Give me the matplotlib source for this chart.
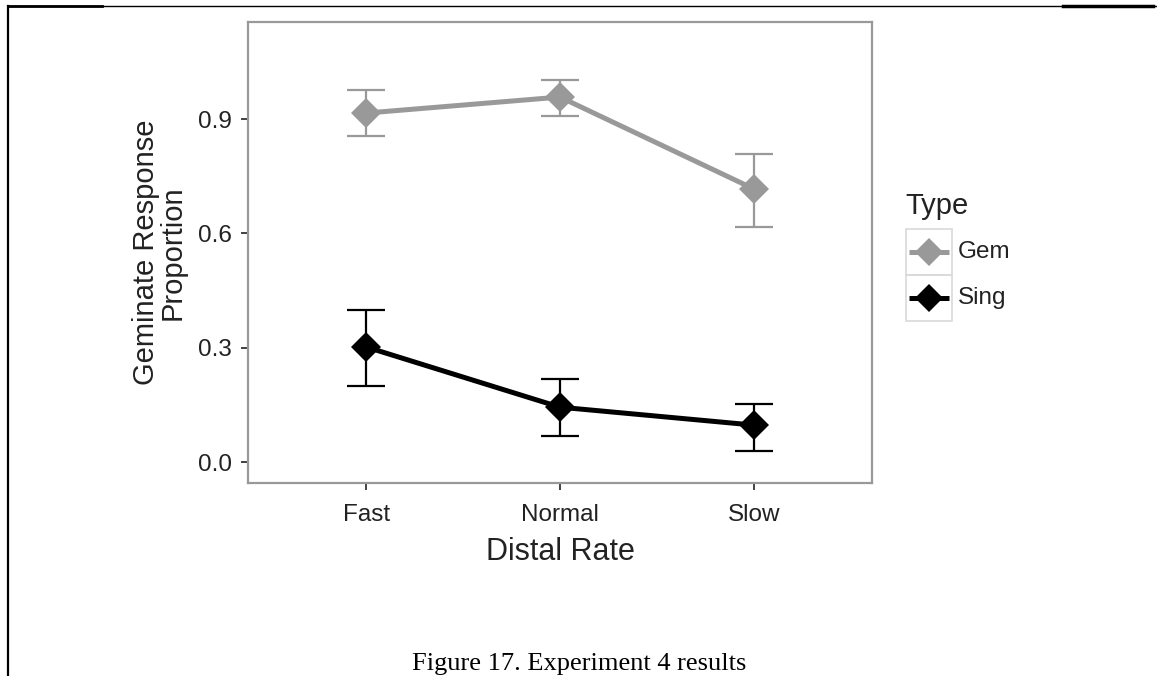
import numpy as np
import matplotlib.pyplot as plt
import matplotlib.transforms as mtransforms
from matplotlib.lines import Line2D
from matplotlib.patches import Rectangle

plt.rcParams['font.family'] = ['Liberation Sans', 'DejaVu Sans']

# distal rate conditions
rates = ['Fast', 'Normal', 'Slow']
# geminate response proportion per type, with error bar limits
gem_mean = [0.916, 0.958, 0.717]
gem_lo = [0.856, 0.908, 0.617]
gem_hi = [0.976, 1.003, 0.808]
sing_mean = [0.302, 0.144, 0.097]
sing_lo = [0.199, 0.068, 0.029]
sing_hi = [0.399, 0.218, 0.152]
yticks = [0.0, 0.3, 0.6, 0.9]

W, H = 1157, 676
fig = plt.figure(figsize=(W/100, H/100), dpi=100)
# pixel coordinates, origin top-left, for legend and page decorations
px = mtransforms.Affine2D().scale(1/W, -1/H).translate(0, 1) + fig.transFigure

ax = fig.add_axes([248/W, 1-483/H, (872-248)/W, (483-22)/H])

x = np.arange(1, len(rates)+1)
series = [('Gem', gem_mean, gem_lo, gem_hi, '#999999'),
          ('Sing', sing_mean, sing_lo, sing_hi, '#000000')]
for name, m, lo, hi, col in series:
    m = np.array(m); lo = np.array(lo); hi = np.array(hi)
    ax.errorbar(x, m, yerr=[m-lo, hi-m], fmt='none', ecolor=col,
                elinewidth=1.6, capsize=14, capthick=1.6, zorder=2)
    ax.plot(x, m, '-', color=col, lw=3.6, zorder=3, solid_capstyle='butt')
    ax.plot(x, m, 'D', color=col, ms=15, zorder=4, mew=0)

ax.set_xlim(0.39, 3.61)
ax.set_ylim(-0.055, 1.155)
ax.set_xticks(x)
ax.set_xticklabels(rates)
ax.set_yticks(yticks)
ax.set_yticklabels(['%.1f' % v for v in yticks])
ax.tick_params(labelsize=17.5, length=5, width=1.3, color='#333333',
               labelcolor='#222222')
ax.tick_params(axis='y', pad=6.5)
ax.tick_params(axis='x', pad=10)
for s in ax.spines.values():
    s.set_color('#999999')
    s.set_linewidth(1.6)

ax.set_xlabel('Distal Rate', fontsize=22, color='#222222', labelpad=8)
ax.set_ylabel('Geminate Response\nProportion', fontsize=21, color='#222222',
              labelpad=8, linespacing=0.95)

# legend drawn by hand: title, boxed keys, labels
fig.text(905, 206, 'Type', transform=px, fontsize=21, color='#222222',
         ha='left', va='center')
for i, (name, m, lo, hi, col) in enumerate(series):
    y0 = 229 + i*46
    fig.add_artist(Rectangle((906, y0), 46, 46, transform=px, fill=False,
                             edgecolor='#d9d9d9', lw=1.2))
    yc = y0 + 23
    fig.add_artist(Line2D([909, 949], [yc, yc], transform=px, color=col,
                          lw=3.6, solid_capstyle='butt'))
    fig.add_artist(Line2D([929], [yc], transform=px, color=col, marker='D',
                          ms=14, mew=0, ls='none'))
    fig.text(958, yc, name, transform=px, fontsize=17.5, color='#222222',
             ha='left', va='center')

fig.text(579/W, 1-664/H, 'Figure 17. Experiment 4 results',
         family='Liberation Serif', fontsize=19, ha='center', va='center')

# page border lines
fig.add_artist(Line2D([8, 8], [6, H], color='black', lw=1.6, transform=px))
fig.add_artist(Line2D([8, W], [6, 6], color='black', lw=1.0, transform=px))
fig.add_artist(Line2D([8, 102], [6, 6], color='black', lw=2.0, transform=px))
fig.add_artist(Line2D([1063, 1153], [6, 6], color='black', lw=2.5, transform=px))

fig.savefig('out.png', dpi=100)
